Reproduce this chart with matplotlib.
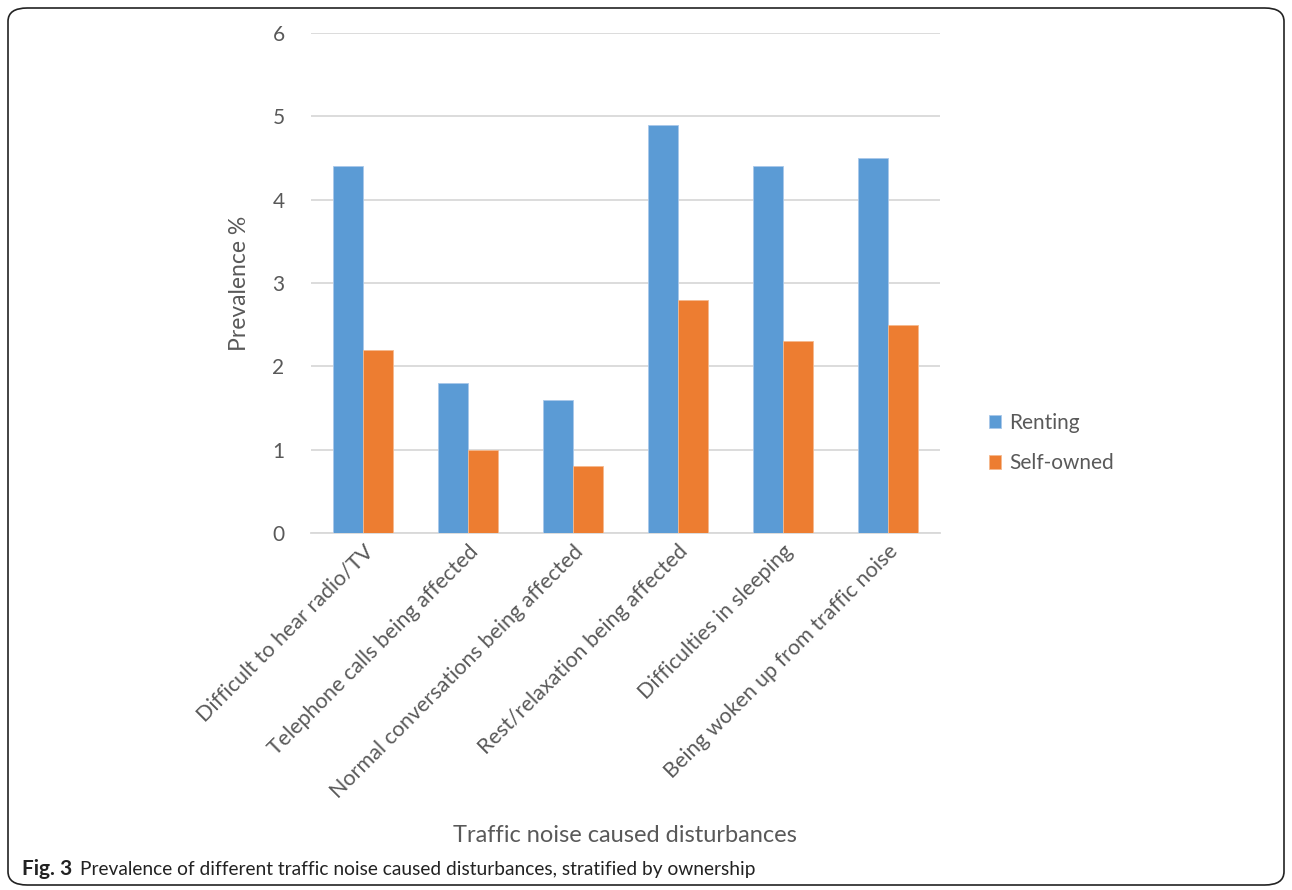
import numpy as np
import matplotlib.pyplot as plt
from matplotlib.patches import FancyBboxPatch

categories = ['Difficult to hear radio/TV', 'Telephone calls being affected',
              'Normal conversations being affected', 'Rest/relaxation being affected',
              'Difficulties in sleeping', 'Being woken up from traffic noise']
renting = [4.4, 1.8, 1.6, 4.9, 4.4, 4.5]
self_owned = [2.2, 1.0, 0.8, 2.8, 2.3, 2.5]
yticks = [0, 1, 2, 3, 4, 5, 6]

plt.rcParams['font.family'] = ['Lato', 'DejaVu Sans']
txt = '#595959'

fig = plt.figure(figsize=(12.92, 8.9), dpi=100)
ax = fig.add_axes([311/1292, 1-533/890, 629/1292, 500/890])

x = np.arange(len(categories))
w = 0.286
ax.bar(x - w/2, renting, w, color='#5B9BD5', edgecolor='#a9c8ea', linewidth=0.6, label='Renting', zorder=3)
ax.bar(x + w/2, self_owned, w, color='#ED7D31', edgecolor='#f5b98e', linewidth=0.6, label='Self-owned', zorder=3)

ax.set_xlim(-0.5, len(categories) - 0.5)
ax.set_ylim(0, 6)
ax.set_yticks(yticks)
ax.yaxis.grid(True, color='#d9d9d9', linewidth=1.3, zorder=0)
for s in ['top', 'right', 'left']:
    ax.spines[s].set_visible(False)
ax.spines['bottom'].set_color('#d9d9d9')
ax.spines['bottom'].set_linewidth(1.3)
ax.tick_params(axis='both', length=0, labelsize=15, labelcolor=txt)
ax.tick_params(axis='y', pad=19)
ax.set_xticks(x)
ax.set_xticklabels(categories, rotation=45, ha='right', rotation_mode='anchor', fontsize=15.5)
ax.tick_params(axis='x', pad=6)
ax.set_ylabel('Prevalence %', fontsize=16.5, color=txt, labelpad=16)

fig.text(625/1292, 1-835/890, 'Traffic noise caused disturbances', fontsize=17, color=txt,
         ha='center', va='center')

ax.legend(loc='center left', bbox_to_anchor=(970/1292, 1-443/890), bbox_transform=fig.transFigure,
          frameon=False, fontsize=15, labelcolor=txt, handlelength=0.6, handleheight=0.6,
          labelspacing=1.0, handletextpad=0.4)

fig.text(22/1292, 1-869/890, 'Fig. 3', fontsize=15, fontweight='bold', color='#222222', va='center')
fig.text(80/1292, 1-869/890, 'Prevalence of different traffic noise caused disturbances, stratified by ownership',
         fontsize=13.8, color='#222222', va='center')

box = FancyBboxPatch((8/1292, 1-885/890), 1276/1292, 877/890, boxstyle='round,pad=0,rounding_size=0.015',
                     transform=fig.transFigure, fill=False, edgecolor='#222222', linewidth=1.2)
fig.patches.append(box)

fig.savefig('out.png', dpi=100)
